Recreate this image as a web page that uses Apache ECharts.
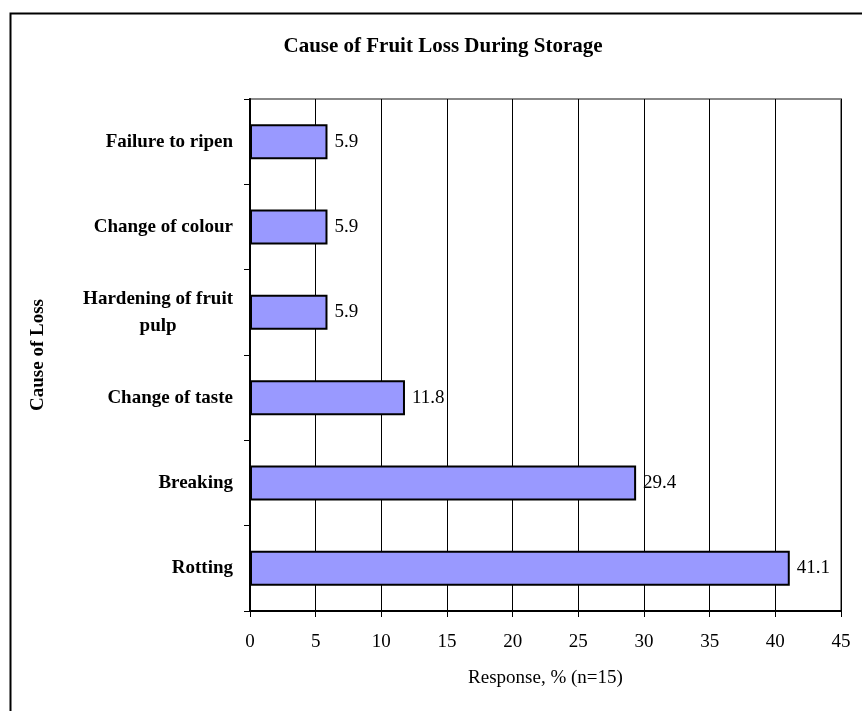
<!DOCTYPE html>
<html>
<head>
<meta charset="utf-8">
<script src="https://cdn.jsdelivr.net/npm/echarts@6/dist/echarts.min.js"></script>
<style>
html,body{margin:0;padding:0;background:#fff;}
#chart{width:862px;height:711px;}
</style>
</head>
<body>
<div id="chart"></div>
<script>
var categories = ['Failure to ripen', 'Change of colour', 'Hardening of fruit pulp', 'Change of taste', 'Breaking', 'Rotting'];
var values = [5.9, 5.9, 5.9, 11.8, 29.4, 41.1];
var xTicks = [0, 5, 10, 15, 20, 25, 30, 35, 40, 45];
var titleText = 'Cause of Fruit Loss During Storage';
var xName = 'Response, % (n=15)';
var yName = 'Cause of Loss';

var FONT = '"Liberation Serif", "Times New Roman", serif';
var chart = echarts.init(document.getElementById('chart'), null, {renderer: 'canvas'});
chart.setOption({
  backgroundColor: '#fff',
  animation: false,
  title: {
    text: titleText,
    left: 438, top: 31, textAlign: 'center',
    textStyle: {fontFamily: FONT, fontSize: 21, fontWeight: 'bold', color: '#000'}
  },
  graphic: [{
    type: 'rect', left: 8, top: 11, silent: true,
    shape: {width: 900, height: 800},
    style: {fill: 'none', stroke: '#000', lineWidth: 2}
  }],
  grid: {
    left: 250, right: 21, top: 99, bottom: 100,
    show: true, borderColor: '#888', borderWidth: 2, backgroundColor: 'transparent'
  },
  xAxis: {
    type: 'value', min: xTicks[0], max: xTicks[xTicks.length - 1], interval: xTicks[1] - xTicks[0],
    name: xName, nameLocation: 'middle', nameGap: 58,
    nameTextStyle: {fontFamily: FONT, fontSize: 19, color: '#000'},
    axisLine: {show: true, lineStyle: {color: '#000', width: 2}},
    axisTick: {show: true, inside: false, length: 6, lineStyle: {color: '#000', width: 1}},
    axisLabel: {fontFamily: FONT, fontSize: 19, color: '#000', margin: 22},
    splitLine: {show: true, lineStyle: {color: '#000', width: 1}}
  },
  yAxis: {
    type: 'category', data: categories, inverse: true,
    name: yName, nameLocation: 'middle', nameGap: 202, nameRotate: 90,
    nameTextStyle: {fontFamily: FONT, fontSize: 19, fontWeight: 'bold', color: '#000'},
    axisLine: {show: true, lineStyle: {color: '#000', width: 2}},
    axisTick: {show: true, inside: false, length: 6, alignWithLabel: false, lineStyle: {color: '#000', width: 1}},
    axisLabel: {
      fontFamily: FONT, fontSize: 19, fontWeight: 'bold', color: '#000', margin: 17,
      formatter: function (v) {
        if (v === 'Hardening of fruit pulp') return '{c|Hardening of fruit}\n{c|pulp}';
        return v;
      },
      rich: {c: {fontFamily: FONT, fontSize: 19, fontWeight: 'bold', color: '#000', align: 'center', lineHeight: 27}}
    },
    splitLine: {show: false}
  },
  series: [{
    type: 'bar', data: values, barWidth: 35,
    itemStyle: {color: '#9999FF', borderColor: '#000', borderWidth: 2},
    label: {show: true, position: 'right', distance: 7, fontFamily: FONT, fontSize: 19, color: '#000'}
  }]
});
</script>
</body>
</html>
